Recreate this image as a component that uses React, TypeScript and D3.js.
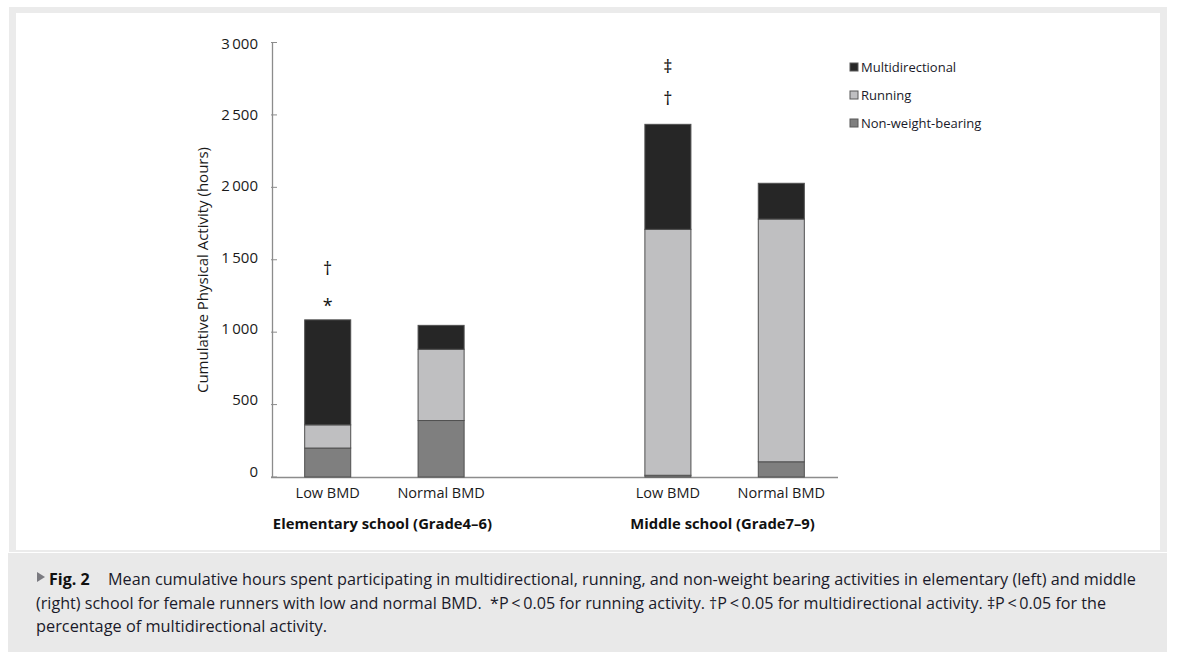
import React from "react";
import * as d3 from "d3";

const slots = ["eLow", "eNorm", "gap", "mLow", "mNorm"];
const barKeys = ["eLow", "eNorm", "mLow", "mNorm"];
const barLabels = ["Low BMD", "Normal BMD", "Low BMD", "Normal BMD"];
const nonWeight = [200, 390, 12, 105];
const running = [160, 492, 1698, 1676];
const multi = [725, 165, 725, 247];
const seriesNames = ["Non-weight-bearing", "Running", "Multidirectional"];
const legendOrder = ["Multidirectional", "Running", "Non-weight-bearing"];
const yTicks = [0, 500, 1000, 1500, 2000, 2500, 3000];
const groupLabels = ["Elementary school (Grade4\u20136)", "Middle school (Grade7\u20139)"];
const groupSlots = [["eLow", "eNorm"], ["mLow", "mNorm"]];
const markers = [
  { slot: "eLow", sym: "*", value: 1190 },
  { slot: "eLow", sym: "\u2020", value: 1445 },
  { slot: "mLow", sym: "\u2020", value: 2615 },
  { slot: "mLow", sym: "\u2021", value: 2835 },
];
const captionLines = [
  "Mean cumulative hours spent participating in multidirectional, running, and non-weight bearing activities in elementary (left) and middle",
  "(right) school for female runners with low and normal BMD. \u00A0*P\u2009<\u20090.05 for running activity. \u2020P\u2009<\u20090.05 for multidirectional activity. \u2021P\u2009<\u20090.05 for the",
  "percentage of multidirectional activity.",
];

const colors: Record<string, string> = {
  "Non-weight-bearing": "#7f7f7f",
  Running: "#bfbfc1",
  Multidirectional: "#262626",
};

const FONT = "'Open Sans', 'Noto Sans', sans-serif";

export default function App() {
  const W = 1179, H = 665;
  const x = d3.scaleBand<string>().domain(slots).range([271, 838]).paddingInner(0.594).paddingOuter(0.297);
  const y = d3.scaleLinear().domain([0, 3000]).range([477, 42.5]);

  const rows = barKeys.map((k, i) => ({
    key: k,
    "Non-weight-bearing": nonWeight[i],
    Running: running[i],
    Multidirectional: multi[i],
  }));
  const stacked = d3.stack<any>().keys(seriesNames)(rows);
  const fmt = (v: number) => d3.format(",")(v).replace(",", "\u2009");

  return (
    <svg width={W} height={H} style={{ position: "absolute", left: 0, top: 0, display: "block" }} fontFamily={FONT}>
      <rect x={0} y={0} width={W} height={H} fill="#fff" />
      {/* figure frame */}
      <rect x={9} y={7} width={1158} height={545} fill="#ebebeb" />
      <rect x={16} y={13} width={1144} height={537} fill="#fff" />
      {/* caption box */}
      <rect x={8} y={553} width={1159} height={99} fill="#e9e9e9" />

      {/* axes */}
      <line x1={272.5} x2={272.5} y1={y(3000)} y2={y(0)} stroke="#8c8c8c" strokeWidth={1.3} />
      <line x1={271} x2={838} y1={y(0) + 0.5} y2={y(0) + 0.5} stroke="#8c8c8c" strokeWidth={1.3} />
      {yTicks.map((t) => (
        <g key={t}>
          <line x1={271} x2={277} y1={y(t)} y2={y(t)} stroke="#8c8c8c" strokeWidth={1} />
          <text x={258} y={y(t) - 6.5 * (1 - t / 3000)} textAnchor="end" dominantBaseline="central" fontSize={15} fill="#1a1a1a">
            {fmt(t)}
          </text>
        </g>
      ))}
      <text
        transform={`translate(202,270) rotate(-90)`}
        textAnchor="middle"
        dominantBaseline="central"
        fontSize={15}
        fill="#1a1a1a"
      >
        Cumulative Physical Activity (hours)
      </text>

      {/* bars */}
      {stacked.map((s) => (
        <g key={s.key} fill={colors[s.key]}>
          {s.map((d: any, i: number) => (
            <rect
              key={i}
              x={x(barKeys[i])!}
              width={x.bandwidth()}
              y={y(d[1])}
              height={y(d[0]) - y(d[1])}
              stroke="#505050"
              strokeWidth={1}
            />
          ))}
        </g>
      ))}

      {/* markers */}
      {markers.map((m, i) => (
        <text key={i} x={x(m.slot)! + x.bandwidth() / 2} y={y(m.value)} textAnchor="middle" dominantBaseline="central" fontSize={18} fill="#111">
          {m.sym}
        </text>
      ))}

      {/* x labels */}
      {barKeys.map((k, i) => (
        <text key={k} x={x(k)! + x.bandwidth() / 2} y={492} textAnchor="middle" dominantBaseline="central" fontSize={14.5} fill="#1a1a1a">
          {barLabels[i]}
        </text>
      ))}
      {groupLabels.map((g, i) => {
        const cx = (x(groupSlots[i][0])! + x(groupSlots[i][1])! + x.bandwidth()) / 2;
        return (
          <text key={g} x={cx - 2} y={523} textAnchor="middle" dominantBaseline="central" fontSize={14.8} fontWeight="bold" fill="#111">
            {g}
          </text>
        );
      })}

      {/* legend */}
      {legendOrder.map((n, i) => (
        <g key={n} transform={`translate(850,${67 + i * 28})`}>
          <rect x={0} y={-4} width={8} height={8} fill={colors[n]} stroke="#595959" strokeWidth={1} />
          <text x={11} y={0} dominantBaseline="central" fontSize={13} fill="#1a1a2a">
            {n}
          </text>
        </g>
      ))}

      {/* caption */}
      <path d="M37,572 L45,577 L37,582 Z" fill="#7a7a80" />
      <text x={49} y={579} dominantBaseline="central" fontSize={16} fontWeight="bold" fill="#111">
        Fig. 2
      </text>
      <text x={108} y={579} dominantBaseline="central" fontSize={15.5} fill="#1a1a2a" textLength={1028} lengthAdjust="spacingAndGlyphs">
        {captionLines[0]}
      </text>
      <text x={36} y={602.5} dominantBaseline="central" fontSize={15.5} fill="#1a1a2a" textLength={1070} lengthAdjust="spacingAndGlyphs">
        {captionLines[1]}
      </text>
      <text x={36} y={626} dominantBaseline="central" fontSize={15.5} fill="#1a1a2a" textLength={291} lengthAdjust="spacingAndGlyphs">
        {captionLines[2]}
      </text>
    </svg>
  );
}
